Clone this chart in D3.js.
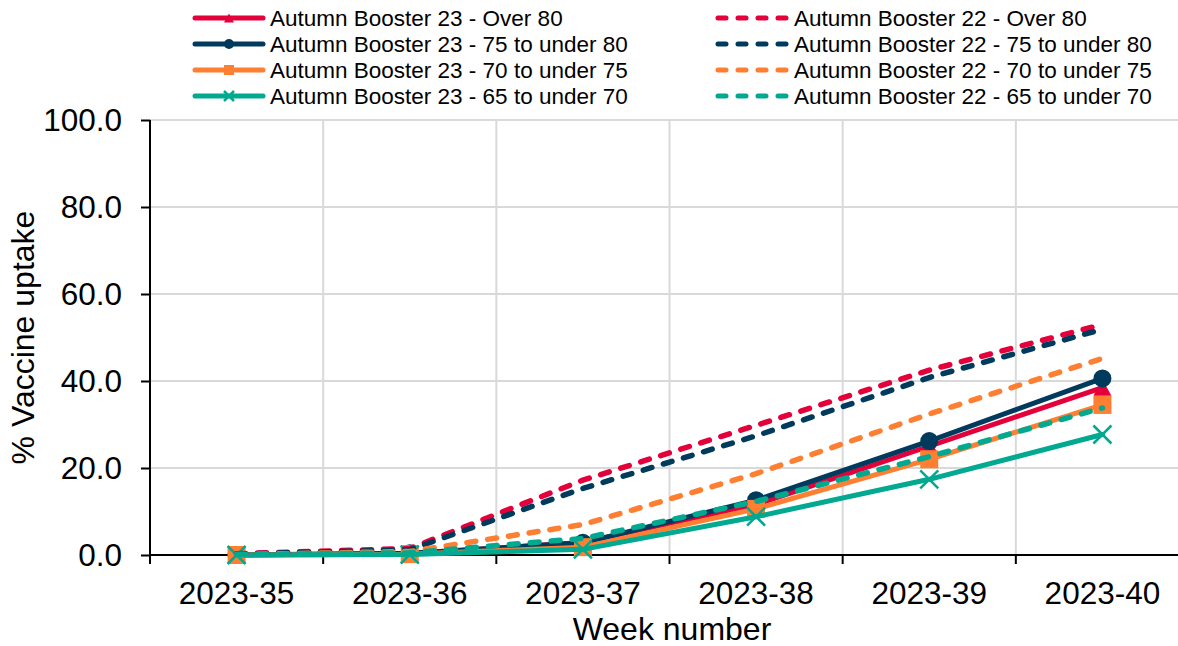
<!DOCTYPE html>
<html>
<head>
<meta charset="utf-8">
<script src="https://cdn.jsdelivr.net/npm/d3@7/dist/d3.min.js"></script>
<style>
  html, body { margin: 0; padding: 0; background: #fff; }
  svg { display: block; font-family: Arial, "Liberation Sans", sans-serif; }
</style>
</head>
<body>
<svg id="chart" width="1178" height="646"></svg>
<script>
// Weekly cumulative uptake (%) by age group
const weeks = ["2023-35", "2023-36", "2023-37", "2023-38", "2023-39", "2023-40"];

const ab23Over80   = [0.0, 0.3, 2.9, 11.6, 25.0, 38.5];
const ab23_75to80  = [0.0, 0.4, 2.8, 12.6, 26.2, 40.6];
const ab23_70to75  = [0.0, 0.2, 1.8, 10.6, 22.0, 34.5];
const ab23_65to70  = [0.0, 0.1, 1.3, 8.8, 17.4, 27.7];

const ab22Over80   = [0.3, 1.5, 17.2, 29.8, 42.5, 53.0];
const ab22_75to80  = [0.2, 1.2, 15.3, 27.4, 40.8, 51.9];
const ab22_70to75  = [0.1, 0.8, 7.0, 18.7, 32.4, 45.2];
const ab22_65to70  = [0.1, 0.5, 3.8, 12.3, 22.6, 33.8];

const yTicks = [0, 20, 40, 60, 80, 100];

const colors = { red: "#e4003b", navy: "#003a5d", orange: "#ff7f32", teal: "#00a98f" };

const series = [
  { name: "Autumn Booster 23 - Over 80",        values: ab23Over80,  color: colors.red,    dashed: false, marker: "triangle" },
  { name: "Autumn Booster 23 - 75 to under 80", values: ab23_75to80, color: colors.navy,   dashed: false, marker: "circle" },
  { name: "Autumn Booster 23 - 70 to under 75", values: ab23_70to75, color: colors.orange, dashed: false, marker: "square" },
  { name: "Autumn Booster 23 - 65 to under 70", values: ab23_65to70, color: colors.teal,   dashed: false, marker: "cross" },
  { name: "Autumn Booster 22 - Over 80",        values: ab22Over80,  color: colors.red,    dashed: true },
  { name: "Autumn Booster 22 - 75 to under 80", values: ab22_75to80, color: colors.navy,   dashed: true },
  { name: "Autumn Booster 22 - 70 to under 75", values: ab22_70to75, color: colors.orange, dashed: true },
  { name: "Autumn Booster 22 - 65 to under 70", values: ab22_65to70, color: colors.teal,   dashed: true }
];

const svg = d3.select("#chart");
const plot = { left: 150, right: 1189, top: 120, bottom: 555 };
const tickFont = 31.5, titleFont = 32;

const x = d3.scaleBand().domain(weeks).range([plot.left, plot.right]).padding(0);
const cx = d => x(d) + x.bandwidth() / 2;
const y = d3.scaleLinear().domain([0, 100]).range([plot.bottom, plot.top]);

// gridlines
const grid = svg.append("g");
grid.selectAll("line.h").data(yTicks.filter(t => t > 0)).join("line")
  .attr("x1", plot.left).attr("x2", plot.right)
  .attr("y1", d => y(d)).attr("y2", d => y(d))
  .attr("stroke", "#d9d9d9").attr("stroke-width", 2);
grid.selectAll("line.v").data(weeks.slice(1)).join("line")
  .attr("x1", d => x(d)).attr("x2", d => x(d))
  .attr("y1", plot.top).attr("y2", plot.bottom)
  .attr("stroke", "#d9d9d9").attr("stroke-width", 2);

// y axis
const yAxis = svg.append("g").attr("transform", `translate(${plot.left},0)`)
  .call(d3.axisLeft(y).tickValues(yTicks).tickFormat(d3.format(".1f")).tickSize(9).tickPadding(19));
yAxis.select(".domain").attr("stroke", "#000").attr("stroke-width", 2).attr("d", `M0,${plot.top}V${plot.bottom}`);
yAxis.selectAll(".tick line").attr("stroke", "#000").attr("stroke-width", 2);
yAxis.selectAll("text").attr("font-size", tickFont).attr("fill", "#000").attr("font-family", "Arial, 'Liberation Sans', sans-serif");

// x axis: labels at week centres, tick marks at week boundaries
const xAxis = svg.append("g").attr("transform", `translate(0,${plot.bottom})`)
  .call(d3.axisBottom(x).tickSize(0).tickPadding(27));
xAxis.select(".domain").remove();
xAxis.selectAll("text").attr("font-size", tickFont).attr("fill", "#000").attr("font-family", "Arial, 'Liberation Sans', sans-serif");
const boundaries = weeks.map(w => x(w)).concat([x(weeks[weeks.length - 1]) + x.bandwidth()]);
svg.append("line").attr("x1", plot.left).attr("x2", plot.right)
  .attr("y1", plot.bottom).attr("y2", plot.bottom)
  .attr("stroke", "#000").attr("stroke-width", 2);
svg.append("g").selectAll("line").data(boundaries).join("line")
  .attr("x1", d => d).attr("x2", d => d)
  .attr("y1", plot.bottom).attr("y2", plot.bottom + 9)
  .attr("stroke", "#000").attr("stroke-width", 2);

// axis titles
svg.append("text").attr("x", 672).attr("y", 640).attr("text-anchor", "middle")
  .attr("font-size", titleFont).attr("fill", "#000").text("Week number");
svg.append("text").attr("transform", `translate(34,${(plot.top + plot.bottom) / 2}) rotate(-90)`)
  .attr("text-anchor", "middle").attr("font-size", titleFont).attr("fill", "#000").text("% Vaccine uptake");

// marker drawing
function drawMarker(g, type, px, py, color, size) {
  if (type === "circle") {
    g.append("circle").attr("cx", px).attr("cy", py).attr("r", size / 2).attr("fill", color);
  } else if (type === "square") {
    g.append("rect").attr("x", px - size / 2).attr("y", py - size / 2)
      .attr("width", size).attr("height", size).attr("fill", color);
  } else if (type === "triangle") {
    const h = size * 0.9;
    g.append("path").attr("d", `M${px},${py - h / 2}L${px + size / 2},${py + h / 2}L${px - size / 2},${py + h / 2}Z`)
      .attr("fill", color);
  } else if (type === "cross") {
    const s = size / 2;
    g.append("path").attr("d", `M${px - s},${py - s}L${px + s},${py + s}M${px - s},${py + s}L${px + s},${py - s}`)
      .attr("stroke", color).attr("stroke-width", 2.5).attr("fill", "none");
  }
}

const line = d3.line().x((d, i) => cx(weeks[i])).y(d => y(d));
const lines = svg.append("g");

// solid series first, each with its markers; dashed series on top
series.filter(s => !s.dashed).forEach(s => {
  const g = lines.append("g");
  g.append("path").datum(s.values).attr("d", line)
    .attr("fill", "none").attr("stroke", s.color).attr("stroke-width", 5)
    .attr("stroke-linejoin", "round").attr("stroke-linecap", "round");
  s.values.forEach((v, i) => drawMarker(g, s.marker, cx(weeks[i]), y(v), s.color, 18));
});
series.filter(s => s.dashed).forEach(s => {
  lines.append("path").datum(s.values).attr("d", line)
    .attr("fill", "none").attr("stroke", s.color).attr("stroke-width", 5.5)
    .attr("stroke-dasharray", "9,12").attr("stroke-linecap", "round").attr("stroke-linejoin", "round");
});

// legend: two columns of four
const legend = svg.append("g");
const colX = [193, 716];
const rowY = [18, 44, 70, 96];
series.forEach((s, i) => {
  const col = s.dashed ? 1 : 0;
  const row = i % 4;
  const x0 = colX[col], yy = rowY[row];
  const g = legend.append("g");
  g.append("line").attr("x1", x0 + 2).attr("x2", x0 + 70).attr("y1", yy).attr("y2", yy)
    .attr("stroke", s.color).attr("stroke-width", 5).attr("stroke-linecap", "round")
    .attr("stroke-dasharray", s.dashed ? "8,12" : null);
  if (!s.dashed) drawMarker(g, s.marker, x0 + 36, yy, s.color, 10);
  g.append("text").attr("x", x0 + (s.dashed ? 78 : 77)).attr("y", yy).attr("dy", "0.35em")
    .attr("font-size", 22.5).attr("fill", "#000").text(s.name);
});
</script>
</body>
</html>
